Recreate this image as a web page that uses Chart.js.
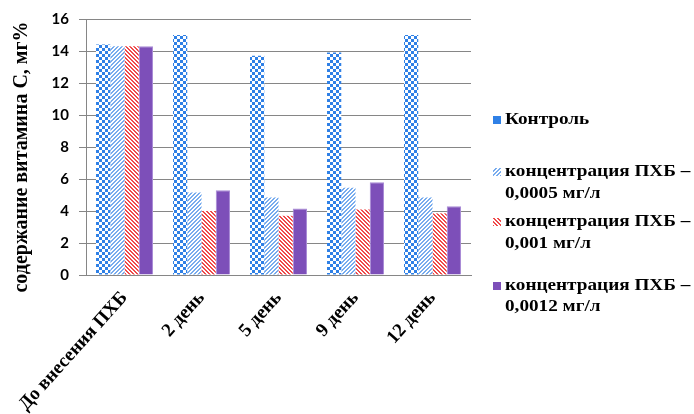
<!DOCTYPE html>
<html>
<head>
<meta charset="utf-8">
<script src="https://cdn.jsdelivr.net/npm/chart.js@4/dist/chart.umd.min.js"></script>
<style>
  html, body { margin: 0; padding: 0; background: #fff; }
</style>
</head>
<body>
<canvas id="c" width="694" height="414"></canvas>
<script>
// Categories (sampling days)
const categories = ['До внесения ПХБ', '2 день', '5 день', '9 день', '12 день'];
// Vitamin C content, mg%
const control = [14.4, 15.0, 13.7, 13.9, 15.0];
const conc0005 = [14.3, 5.15, 4.85, 5.45, 4.85];
const conc001 = [14.3, 4.0, 3.7, 4.1, 3.85];
const conc0012 = [14.3, 5.3, 4.15, 5.8, 4.3];
// Series names (legend lines)
const seriesNames = [
  ['Контроль'],
  ['концентрация ПХБ –', '0,0005 мг/л'],
  ['концентрация ПХБ –', '0,001 мг/л'],
  ['концентрация ПХБ –', '0,0012 мг/л']
];
const yTicks = [0, 2, 4, 6, 8, 10, 12, 14, 16];
const yTitle = 'содержание витамина С, мг%';

const SERIF = '"Liberation Serif"';

// Fill patterns
function checker(color) {
  const c = document.createElement('canvas');
  c.width = 6; c.height = 6;
  const g = c.getContext('2d');
  g.fillStyle = '#fff'; g.fillRect(0, 0, 6, 6);
  g.fillStyle = color;
  g.fillRect(0, 0, 3, 3); g.fillRect(3, 3, 3, 3);
  return g.createPattern(c, 'repeat');
}
function stripes(color, forward) {
  const n = 4;
  const c = document.createElement('canvas');
  c.width = n; c.height = n;
  const g = c.getContext('2d');
  g.fillStyle = '#fff'; g.fillRect(0, 0, n, n);
  g.fillStyle = color;
  for (let x = 0; x < n; x++) {
    const y = forward ? (n - 1 - x) : x;
    g.fillRect(x, y, 1, 1);
    g.fillRect(x, (y + 1) % n, 1, 1);
  }
  return g.createPattern(c, 'repeat');
}

const blue = '#2f80e6';
const lightBlue = '#78acee';
const red = '#f04a4a';
const purple = '#7d4fb9';

const fills = [checker(blue), stripes(lightBlue, true), stripes(red, false), purple];
const swatches = [blue, stripes(lightBlue, true), stripes(red, false), purple];

// Legend on the right and rotated y-axis title
const sidePlugin = {
  id: 'sideLegend',
  afterDraw(chart) {
    const ctx = chart.ctx;
    ctx.save();
    ctx.textBaseline = 'middle';
    const rows = [[120], [172, 194], [222, 244], [286, 307]];
    seriesNames.forEach((lines, i) => {
      const y0 = rows[i][0];
      ctx.fillStyle = swatches[i];
      ctx.fillRect(493, y0 - 4, 8, 8);
      ctx.fillStyle = '#000';
      lines.forEach((t, j) => {
        ctx.save();
        ctx.translate(505, rows[i][j]);
        ctx.scale(1.2, 1);
        ctx.font = 'bold 16px ' + SERIF;
        ctx.fillText(t, 0, 0);
        ctx.restore();
      });
    });
    // y-axis title
    ctx.translate(22, 157);
    ctx.rotate(-Math.PI / 2);
    ctx.textAlign = 'center';
    ctx.font = 'bold 20px ' + SERIF;
    ctx.fillStyle = '#000';
    ctx.fillText(yTitle, 0, 0);
    ctx.restore();
  }
};

const series = [control, conc0005, conc001, conc0012];
const chart = new Chart(document.getElementById('c'), {
  type: 'bar',
  data: {
    labels: categories,
    datasets: series.map((d, i) => ({
      label: seriesNames[i].join(' '),
      data: d,
      backgroundColor: fills[i],
      borderColor: i === 3 ? '#a88ad6' : 'rgba(0,0,0,0)',
      borderWidth: i === 3 ? 1 : 0,
      categoryPercentage: 0.74,
      barPercentage: 1.0
    }))
  },
  options: {
    responsive: false,
    animation: false,
    layout: { padding: { top: 19, right: 223, left: 0, bottom: 0 } },
    plugins: { legend: { display: false }, tooltip: { enabled: false } },
    scales: {
      x: {
        grid: { display: false },
        border: { display: true, color: '#868686', width: 1 },
        ticks: {
          color: '#000',
          font: { family: SERIF, size: 19, weight: 'bold' },
          maxRotation: 48, minRotation: 48, padding: 4
        },
        afterFit(s) { s.height = 139; }
      },
      y: {
        min: 0, max: 16,
        afterBuildTicks(s) { s.ticks = yTicks.map(v => ({ value: v })); },
        grid: { color: '#868686', tickLength: 7, drawTicks: true },
        border: { display: true, color: '#868686', width: 1 },
        ticks: {
          color: '#000',
          font: { family: 'Lato', size: 15, weight: 'bold' },
          padding: 10
        },
        afterFit(s) { s.width = 86; }
      }
    }
  },
  plugins: [sidePlugin]
});
</script>
</body>
</html>
